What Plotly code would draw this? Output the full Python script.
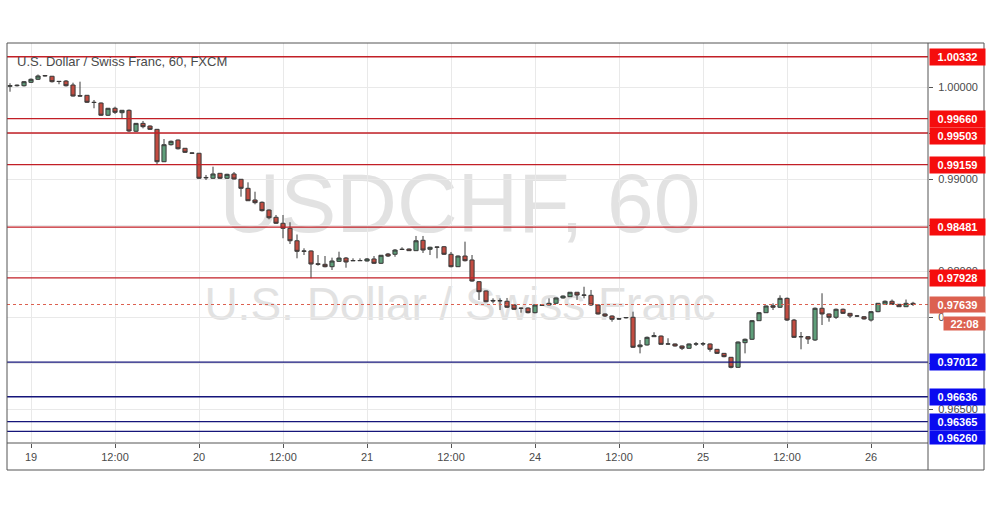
import plotly.graph_objects as go

# ---------------- data (USD/CHF, 60 min, FXCM) ----------------
open_ = [1.00011, 1.00017, 1.00017, 1.00054, 1.00087, 1.00127, 1.00120, 1.00065, 1.00068, 1.00025,
         0.99909, 0.99913, 0.99837, 0.99829, 0.99696, 0.99772, 0.99724, 0.99750, 0.99522, 0.99608,
         0.99579, 0.99543, 0.99191, 0.99376, 0.99427, 0.99337, 0.99286, 0.99283, 0.99020, 0.99011,
         0.99065, 0.99011, 0.99058, 0.99000, 0.98902, 0.98775, 0.98750, 0.98666, 0.98587, 0.98522,
         0.98467, 0.98332, 0.98221, 0.98221, 0.98081, 0.98076, 0.98050, 0.98108, 0.98144, 0.98117,
         0.98115, 0.98112, 0.98134, 0.98087, 0.98188, 0.98185, 0.98237, 0.98242, 0.98224, 0.98337,
         0.98239, 0.98264, 0.98267, 0.98185, 0.98050, 0.98166, 0.98123, 0.97887, 0.97786, 0.97683,
         0.97680, 0.97674, 0.97634, 0.97598, 0.97601, 0.97550, 0.97634, 0.97634, 0.97652, 0.97710,
         0.97724, 0.97772, 0.97742, 0.97739, 0.97634, 0.97536, 0.97514, 0.97484, 0.97495, 0.97500,
         0.97180, 0.97199, 0.97289, 0.97296, 0.97210, 0.97210, 0.97188, 0.97163, 0.97210, 0.97210,
         0.97210, 0.97152, 0.97108, 0.97065, 0.96956, 0.97224, 0.97261, 0.97463, 0.97550, 0.97626,
         0.97609, 0.97706, 0.97470, 0.97289, 0.97289, 0.97253, 0.97598, 0.97536, 0.97500, 0.97587,
         0.97543, 0.97514, 0.97506, 0.97470, 0.97561, 0.97641, 0.97674, 0.97641, 0.97615, 0.97652]
high = [1.00044, 1.00030, 1.00068, 1.00096, 1.00139, 1.00134, 1.00123, 1.00068, 1.00079, 1.00050,
        1.00061, 0.99916, 0.99862, 0.99835, 0.99775, 0.99789, 0.99753, 0.99759, 0.99612, 0.99634,
        0.99585, 0.99547, 0.99438, 0.99421, 0.99432, 0.99340, 0.99291, 0.99286, 0.99047, 0.99137,
        0.99068, 0.99060, 0.99079, 0.99003, 0.98967, 0.98865, 0.98759, 0.98672, 0.98612, 0.98612,
        0.98533, 0.98400, 0.98250, 0.98226, 0.98177, 0.98166, 0.98148, 0.98213, 0.98155, 0.98141,
        0.98141, 0.98144, 0.98166, 0.98177, 0.98199, 0.98242, 0.98261, 0.98248, 0.98384, 0.98384,
        0.98267, 0.98267, 0.98275, 0.98210, 0.98172, 0.98322, 0.98177, 0.97894, 0.97791, 0.97706,
        0.97706, 0.97710, 0.97641, 0.97607, 0.97607, 0.97639, 0.97639, 0.97706, 0.97715, 0.97737,
        0.97775, 0.97775, 0.97832, 0.97797, 0.97639, 0.97541, 0.97520, 0.97492, 0.97503, 0.97561,
        0.97253, 0.97291, 0.97337, 0.97302, 0.97272, 0.97215, 0.97193, 0.97215, 0.97231, 0.97231,
        0.97215, 0.97155, 0.97112, 0.97068, 0.97237, 0.97269, 0.97470, 0.97557, 0.97628, 0.97652,
        0.97739, 0.97715, 0.97482, 0.97340, 0.97296, 0.97607, 0.97761, 0.97541, 0.97595, 0.97595,
        0.97547, 0.97525, 0.97514, 0.97568, 0.97655, 0.97683, 0.97693, 0.97644, 0.97693, 0.97668]
low = [0.99952, 1.00009, 1.00009, 1.00047, 1.00079, 1.00117, 1.00052, 1.00033, 1.00009, 0.99900,
       0.99900, 0.99829, 0.99772, 0.99688, 0.99688, 0.99710, 0.99663, 0.99514, 0.99514, 0.99554,
       0.99536, 0.99155, 0.99188, 0.99367, 0.99324, 0.99286, 0.99277, 0.99003, 0.98992, 0.99005,
       0.99003, 0.99003, 0.98998, 0.98811, 0.98764, 0.98728, 0.98650, 0.98565, 0.98514, 0.98359,
       0.98297, 0.98141, 0.98177, 0.97924, 0.98061, 0.98043, 0.98014, 0.98101, 0.98039, 0.98112,
       0.98112, 0.98107, 0.98079, 0.98079, 0.98155, 0.98158, 0.98231, 0.98221, 0.98221, 0.98199,
       0.98177, 0.98141, 0.98177, 0.98043, 0.98047, 0.98107, 0.97887, 0.97688, 0.97663, 0.97652,
       0.97579, 0.97601, 0.97579, 0.97550, 0.97543, 0.97543, 0.97624, 0.97628, 0.97644, 0.97704,
       0.97721, 0.97688, 0.97706, 0.97623, 0.97530, 0.97503, 0.97452, 0.97473, 0.97487, 0.97166,
       0.97108, 0.97193, 0.97286, 0.97204, 0.97204, 0.97182, 0.97144, 0.97158, 0.97188, 0.97188,
       0.97126, 0.97101, 0.97065, 0.96945, 0.96952, 0.97108, 0.97253, 0.97460, 0.97547, 0.97579,
       0.97601, 0.97460, 0.97275, 0.97152, 0.97210, 0.97243, 0.97416, 0.97452, 0.97482, 0.97536,
       0.97492, 0.97503, 0.97475, 0.97454, 0.97555, 0.97634, 0.97634, 0.97612, 0.97612, 0.97623]
close = [1.00017, 1.00022, 1.00061, 1.00087, 1.00123, 1.00125, 1.00061, 1.00063, 1.00017, 0.99905,
         0.99905, 0.99837, 0.99835, 0.99696, 0.99772, 0.99728, 0.99750, 0.99525, 0.99608, 0.99572,
         0.99543, 0.99191, 0.99376, 0.99413, 0.99332, 0.99293, 0.99284, 0.99011, 0.99017, 0.99058,
         0.99011, 0.99054, 0.99003, 0.98902, 0.98767, 0.98746, 0.98659, 0.98582, 0.98522, 0.98467,
         0.98332, 0.98217, 0.98218, 0.98079, 0.98077, 0.98050, 0.98112, 0.98144, 0.98101, 0.98115,
         0.98117, 0.98134, 0.98087, 0.98174, 0.98166, 0.98231, 0.98239, 0.98224, 0.98332, 0.98231,
         0.98261, 0.98262, 0.98185, 0.98050, 0.98166, 0.98115, 0.97894, 0.97778, 0.97669, 0.97678,
         0.97680, 0.97609, 0.97587, 0.97598, 0.97550, 0.97634, 0.97631, 0.97652, 0.97710, 0.97731,
         0.97772, 0.97742, 0.97740, 0.97634, 0.97536, 0.97514, 0.97478, 0.97482, 0.97497, 0.97174,
         0.97199, 0.97282, 0.97300, 0.97206, 0.97210, 0.97188, 0.97163, 0.97210, 0.97210, 0.97212,
         0.97152, 0.97108, 0.97072, 0.96956, 0.97231, 0.97261, 0.97463, 0.97550, 0.97623, 0.97609,
         0.97706, 0.97470, 0.97282, 0.97289, 0.97264, 0.97598, 0.97536, 0.97500, 0.97587, 0.97543,
         0.97514, 0.97514, 0.97482, 0.97561, 0.97652, 0.97674, 0.97641, 0.97615, 0.97652, 0.97639]

x_tick_bars = [3, 15, 27, 39, 51, 63, 75, 87, 99, 111, 123]
x_tick_text = ["19", "12:00", "20", "12:00", "21", "12:00", "24", "12:00", "25", "12:00", "26"]

y_tick_vals = [0.965, 0.970, 0.975, 0.980, 0.985, 0.990, 0.995, 1.000]
y_tick_text = ["0.96500", "", "0.97500", "0.98000", "", "0.99000", "", "1.00000"]

resistance_levels = [1.00332, 0.99660, 0.99503, 0.99159, 0.98481, 0.97928]
support_levels = [0.97012, 0.96636, 0.96365, 0.96260]
last_price = 0.97639
countdown = "22:08"
title_text = "U.S. Dollar / Swiss Franc, 60, FXCM"
wm_big = "USDCHF, 60"
wm_small = "U.S. Dollar / Swiss Franc"

# ---------------- styling ----------------
FONT = "Liberation Sans, Arial, sans-serif"
RED_LINE = "#c21f26"
RED_LBL = "#f50d0d"
BLUE_LINE = "#15157a"
BLUE_LBL = "#0a0af0"
LAST_CLR = "#dc6150"
FRAME = "#555555"
GRID = "#e9e9e9"

W, H = 991, 507
ML, MR, MT, MB = 7, 63, 43, 64
PW, PH = W - ML - MR, H - MT - MB

y_lo, y_hi = 0.961335, 1.004815
x_lo, x_hi = -0.43, 131.14

bars = list(range(len(close)))

fig = go.Figure()
fig.add_trace(go.Candlestick(
    x=bars, open=open_, high=high, low=low, close=close,
    increasing=dict(fillcolor="#5f9e7a", line=dict(color="#3a3a3a", width=1)),
    decreasing=dict(fillcolor="#c24c41", line=dict(color="#3a3a3a", width=1)),
    whiskerwidth=0, hoverinfo="skip", showlegend=False,
))


def px2paper_x(px):
    return (px - ML) / PW


def px2paper_y(py):
    return (H - MB - py) / PH


shapes = []
# watermark (below everything)
shapes.append(dict(type="rect", xref="paper", yref="paper", layer="below",
                   x0=px2paper_x(200), x1=px2paper_x(720), y0=px2paper_y(235), y1=px2paper_y(155),
                   line=dict(width=0), fillcolor="rgba(0,0,0,0)",
                   label=dict(text=wm_big, font=dict(family=FONT, size=84, color="#e2e2e2"),
                              textposition="middle center")))
shapes.append(dict(type="rect", xref="paper", yref="paper", layer="below",
                   x0=px2paper_x(180), x1=px2paper_x(740), y0=px2paper_y(325), y1=px2paper_y(275),
                   line=dict(width=0), fillcolor="rgba(0,0,0,0)",
                   label=dict(text=wm_small, font=dict(family=FONT, size=46, color="#e2e2e2"),
                              textposition="middle center")))

for lv in resistance_levels:
    shapes.append(dict(type="line", xref="paper", x0=0, x1=1, yref="y", y0=lv, y1=lv,
                       line=dict(color=RED_LINE, width=1.3)))
for lv in support_levels:
    shapes.append(dict(type="line", xref="paper", x0=0, x1=1, yref="y", y0=lv, y1=lv,
                       line=dict(color=BLUE_LINE, width=1.3)))
shapes.append(dict(type="line", xref="paper", x0=0, x1=1, yref="y", y0=last_price, y1=last_price,
                   line=dict(color=LAST_CLR, width=1, dash="dot")))

# frame
rx = px2paper_x(984)
by = px2paper_y(470)
shapes += [
    dict(type="line", xref="paper", yref="paper", x0=0, x1=rx, y0=1, y1=1, line=dict(color=FRAME, width=1)),
    dict(type="line", xref="paper", yref="paper", x0=0, x1=0, y0=by, y1=1, line=dict(color=FRAME, width=1)),
    dict(type="line", xref="paper", yref="paper", x0=0, x1=rx, y0=by, y1=by, line=dict(color=FRAME, width=1)),
    dict(type="line", xref="paper", yref="paper", x0=rx, x1=rx, y0=by, y1=1, line=dict(color=FRAME, width=1)),
    dict(type="line", xref="paper", yref="paper", x0=1, x1=1, y0=by, y1=1, line=dict(color=FRAME, width=1)),
    dict(type="line", xref="paper", yref="paper", x0=0, x1=1, y0=0, y1=0, line=dict(color=FRAME, width=1)),
]

annotations = []
annotations.append(dict(text=title_text, xref="paper", yref="paper", x=px2paper_x(15), y=px2paper_y(61),
                        xanchor="left", yanchor="middle", showarrow=False,
                        font=dict(family=FONT, size=13, color="#4a4a4a")))

label_shift = {0.99503: -3.4, 0.96260: -6}
label_h = {0.96260: 13}


def price_label(val, bg, shift=0, h=16, text=None, width=55, xshift=1):
    return dict(text="<b>%s</b>" % (text if text else "%.5f" % val), xref="paper", x=1, xanchor="left",
                yref="y", y=val, yanchor="middle", xshift=xshift, yshift=shift,
                showarrow=False, bgcolor=bg, width=width, height=h, borderpad=0,
                align="center", valign="middle",
                font=dict(family=FONT, size=11, color="white"))


for lv in resistance_levels:
    annotations.append(price_label(lv, RED_LBL, label_shift.get(lv, 0), label_h.get(lv, 16)))
for lv in support_levels:
    annotations.append(price_label(lv, BLUE_LBL, label_shift.get(lv, 0), label_h.get(lv, 16)))
annotations.append(price_label(last_price, LAST_CLR))
# white strip hiding the tick label between the two price boxes, then the countdown box
annotations.append(dict(text="", xref="paper", x=1, xanchor="left", yref="y", y=last_price,
                        yanchor="middle", xshift=15, yshift=-10.5, showarrow=False,
                        bgcolor="white", width=41, height=5, borderpad=0))
annotations.append(price_label(last_price, LAST_CLR, shift=-18.5, h=13, text=countdown, width=41, xshift=15))

fig.update_layout(
    width=W, height=H,
    margin=dict(l=ML, r=MR, t=MT, b=MB, pad=0),
    paper_bgcolor="white", plot_bgcolor="white",
    showlegend=False,
    boxgap=0.15,
    shapes=shapes, annotations=annotations,
    xaxis=dict(range=[x_lo, x_hi], tickmode="array", tickvals=x_tick_bars, ticktext=x_tick_text,
               showgrid=True, gridcolor=GRID, gridwidth=1, zeroline=False,
               ticks="outside", ticklen=4, tickcolor=FRAME, showline=False,
               tickfont=dict(family=FONT, size=11, color="#4a4a4a"),
               rangeslider=dict(visible=False), fixedrange=True),
    yaxis=dict(range=[y_lo, y_hi], side="right", tickmode="array", tickvals=y_tick_vals,
               ticktext=y_tick_text, showgrid=True, gridcolor=GRID, gridwidth=1, zeroline=False,
               ticks="outside", ticklen=4, tickcolor=FRAME, showline=False,
               ticklabelstandoff=3,
               tickfont=dict(family=FONT, size=11, color="#4a4a4a"), fixedrange=True),
)

fig.write_html("out.html", config={"displayModeBar": False, "staticPlot": True},
               post_script="document.body.style.margin='0';document.body.style.overflow='hidden';")
